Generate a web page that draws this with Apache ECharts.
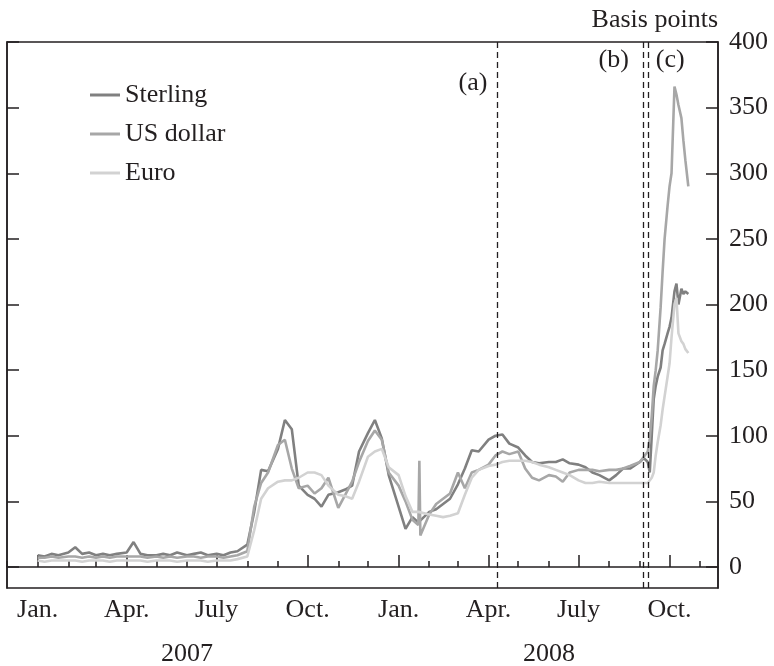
<!DOCTYPE html>
<html>
<head>
<meta charset="utf-8">
<script src="https://cdn.jsdelivr.net/npm/echarts@6/dist/echarts.min.js"></script>
<style>
    html, body { margin: 0; padding: 0; background: #fff; }
    #chart { width: 774px; height: 666px; }
</style>
</head>
<body>
<div id="chart"></div>
<script>
    // sample dates: about weekly, denser round the Sep/Oct 2008 jump
    const dates = [
        '2007-01-01','2007-01-08','2007-01-15','2007-01-22',
        '2007-02-01','2007-02-08','2007-02-15','2007-02-22',
        '2007-03-01','2007-03-08','2007-03-15','2007-03-22',
        '2007-04-01','2007-04-08','2007-04-15','2007-04-22',
        '2007-05-01','2007-05-08','2007-05-15','2007-05-22',
        '2007-06-01','2007-06-08','2007-06-15','2007-06-22',
        '2007-07-01','2007-07-08','2007-07-15','2007-07-22',
        '2007-08-01','2007-08-08','2007-08-15','2007-08-22',
        '2007-09-01','2007-09-08','2007-09-15','2007-09-22',
        '2007-10-01','2007-10-08','2007-10-15','2007-10-22',
        '2007-11-01','2007-11-08','2007-11-15','2007-11-22',
        '2007-12-01','2007-12-08','2007-12-15','2007-12-22',
        '2008-01-01','2008-01-08','2008-01-15','2008-01-21','2008-01-22','2008-01-23',
        '2008-02-01','2008-02-08','2008-02-15','2008-02-22',
        '2008-03-01','2008-03-08','2008-03-15','2008-03-22',
        '2008-04-01','2008-04-08','2008-04-15','2008-04-22',
        '2008-05-01','2008-05-08','2008-05-15','2008-05-22',
        '2008-06-01','2008-06-08','2008-06-15','2008-06-22',
        '2008-07-01','2008-07-08','2008-07-15','2008-07-22',
        '2008-08-01','2008-08-08','2008-08-15','2008-08-22',
        '2008-09-01','2008-09-05','2008-09-09','2008-09-11','2008-09-13','2008-09-15',
        '2008-09-17','2008-09-19','2008-09-22','2008-09-24','2008-09-26','2008-09-29',
        '2008-10-01','2008-10-03','2008-10-06','2008-10-08','2008-10-10','2008-10-13',
        '2008-10-15','2008-10-17','2008-10-20'
    ]
    const sterling = [
        9, 8, 10, 9,   11, 15, 10, 11,   9, 10, 9, 10,   11, 19, 10, 9,
        9, 10, 9, 11,   9, 10, 11, 9,   10, 9, 11, 12,   17, 42, 74, 73,
        90, 112, 105, 62,   55, 52, 46, 55,   57, 59, 62, 88,   102, 112, 98, 70,
        46, 29, 38, 34, 34, 33,   42, 44, 48, 52,   63, 75, 89, 88,   97, 100, 101, 94,
        91, 85, 80, 79,   80, 80, 82, 79,   78, 76, 72, 70,   66, 70, 75, 75,
        80, 83, 80, 72, 100, 128, 138, 145, 152, 165, 170, 178,
        183, 190, 210, 216, 200, 212, 208, 210, 208
    ]
    const usDollar = [
        7, 7, 8, 7,   8, 8, 7, 8,   7, 8, 7, 8,   8, 8, 8, 7,
        8, 7, 8, 7,   8, 8, 7, 8,   8, 7, 8, 9,   12, 46, 64, 72,
        93, 97, 75, 60,   62, 56, 60, 68,   45, 55, 65, 80,   96, 104, 97, 72,
        62, 50, 36, 32, 81, 24,   40, 48, 52, 56,   72, 60, 72, 74,   78, 85, 88, 86,
        88, 75, 68, 66,   70, 69, 65, 72,   74, 74, 74, 73,   74, 74, 75, 77,
        80, 84, 88, 98, 115, 138, 150, 165, 198, 225, 250, 275,
        290, 300, 366, 360, 352, 342, 325, 310, 290
    ]
    const euro = [
        5, 4, 5, 5,   5, 5, 4, 5,   5, 5, 4, 5,   5, 5, 5, 4,
        5, 5, 5, 4,   5, 5, 5, 4,   5, 5, 5, 6,   8, 28, 52, 60,
        65, 66, 66, 68,   72, 72, 70, 62,   55, 54, 52, 65,   84, 88, 90, 76,
        70, 54, 42, 42, 42, 41,   40, 39, 38, 39,   41, 55, 68, 74,   77, 78, 80, 81,
        81, 81, 80, 78,   76, 74, 72, 70,   66, 64, 64, 65,   64, 64, 64, 64,
        64, 64, 64, 64, 68, 72, 85, 95, 108, 120, 130, 145,
        155, 175, 200, 205, 178, 172, 170, 166, 163
    ]

    const yTicks = [0, 50, 100, 150, 200, 250, 300, 350, 400]
    const quarterTicks = ['2007-01-01','2007-04-01','2007-07-01','2007-10-01','2008-01-01','2008-04-01','2008-07-01','2008-10-01']
    const quarterNames = ['Jan.','Apr.','July','Oct.','Jan.','Apr.','July','Oct.']
    const years = ['2007', '2008']
    const yearCentres = ['2007-06-01', '2008-06-01']
    const events = [
        { name: '(a)', date: '2008-04-10' },
        { name: '(b)', date: '2008-09-04' },
        { name: '(c)', date: '2008-09-09' }
    ]

    const ink = '#231f20'
    const serif = '"Liberation Serif", "DejaVu Serif", serif'
    const fontSize = 26
    // x is kept as a plain value axis of timestamps (time axes reject customValues)
    const ts = d => new Date(d + 'T00:00:00').getTime()
    const xMin = ts('2006-12-01'), xMax = ts('2008-11-19')

    // month starts for the short ticks
    let monthTicks = []
    for (let y = 2006; y <= 2008; y++) {
        for (let m = 0; m < 12; m++) {
            let t = new Date(y, m, 1).getTime()
            if (t >= xMin && t <= xMax) monthTicks.push(t)
        }
    }
    const quarterTs = quarterTicks.map(ts)

    let chart = echarts.init(document.getElementById('chart'))

    let lineSerie = (name, values, color, extra) => Object.assign({
        name,
        type: 'line',
        yAxisIndex: 0,
        showSymbol: false,
        symbol: 'none',
        color,
        lineStyle: { color, width: 2.6 },
        data: dates.map((d, i) => [ts(d), values[i]])
    }, extra || {})

    chart.setOption({
        animation: false,
        grid: {
            left: 7, right: 56, top: 42, bottom: 78,
            show: true, borderColor: ink, borderWidth: 1.5, backgroundColor: 'transparent'
        },
        legend: {
            orient: 'vertical', left: 85, top: 77,
            icon: 'rect', itemWidth: 30, itemHeight: 3, itemGap: 13,
            textStyle: { fontFamily: serif, fontSize, color: ink },
            data: ['Sterling', 'US dollar', 'Euro']
        },
        xAxis: [
            {
                type: 'value', min: xMin, max: xMax, position: 'bottom',
                axisLine: { show: true, lineStyle: { color: ink, width: 1.5 } },
                axisTick: { show: true, inside: true, length: 12, customValues: quarterTs, lineStyle: { color: ink, width: 1.5 } },
                axisLabel: {
                    customValues: quarterTs, margin: 9, color: ink, fontFamily: serif, fontSize,
                    formatter: v => {
                        let best = 0
                        quarterTs.forEach((q, i) => { if (Math.abs(q - v) < Math.abs(quarterTs[best] - v)) best = i })
                        return quarterNames[best]
                    }
                },
                splitLine: { show: false }
            },
            {
                type: 'value', min: xMin, max: xMax, position: 'bottom',
                axisLine: { show: false },
                axisTick: { show: true, inside: true, length: 6, customValues: monthTicks, lineStyle: { color: ink, width: 1.5 } },
                axisLabel: { show: false },
                splitLine: { show: false }
            }
        ],
        yAxis: [
            {
                type: 'value', position: 'right', min: -16, max: 400,
                name: 'Basis points', nameLocation: 'end', nameGap: 9,
                nameTextStyle: { align: 'right', verticalAlign: 'bottom', fontFamily: serif, fontSize, color: ink },
                axisLine: { show: true, lineStyle: { color: ink, width: 1.5 } },
                axisTick: { show: true, inside: true, length: 12, customValues: yTicks, lineStyle: { color: ink, width: 1.5 } },
                axisLabel: { customValues: yTicks, margin: 11, color: ink, fontFamily: serif, fontSize },
                splitLine: { show: false }
            },
            {
                type: 'value', position: 'left', min: -16, max: 400,
                axisLine: { show: true, lineStyle: { color: ink, width: 1.5 } },
                axisTick: { show: true, inside: true, length: 12, customValues: yTicks, lineStyle: { color: ink, width: 1.5 } },
                axisLabel: { show: false },
                splitLine: { show: false }
            }
        ],
        series: [
            lineSerie('Sterling', sterling, '#808080', {
                markLine: {
                    silent: true, symbol: 'none',
                    label: { show: false },
                    lineStyle: { color: ink, width: 1.3, type: [6, 4] },
                    data: events.map(e => ({ xAxis: ts(e.date) }))
                }
            }),
            lineSerie('US dollar', usDollar, '#a7a7a7'),
            lineSerie('Euro', euro, '#d2d2d2')
        ]
    })

    // event and year labels, placed through the x scale
    const px = d => chart.convertToPixel({ xAxisIndex: 0 }, ts(d))
    const textStyle = { fontFamily: serif, fontSize, fill: ink }
    let graphics = []
    events.forEach((e, i) => {
        let x = px(e.date)
        let right = i < 2
        graphics.push({
            type: 'text',
            x: right ? x - (i === 0 ? 10 : 14) : x + 8,
            y: i === 0 ? 83 : 60,
            style: Object.assign({ text: e.name, align: right ? 'right' : 'left', verticalAlign: 'middle' }, textStyle)
        })
    })
    years.forEach((y, i) => {
        graphics.push({
            type: 'text', x: px(yearCentres[i]), y: 654,
            style: Object.assign({ text: y, align: 'center', verticalAlign: 'middle' }, textStyle)
        })
    })
    chart.setOption({ graphic: graphics })
</script>
</body>
</html>
